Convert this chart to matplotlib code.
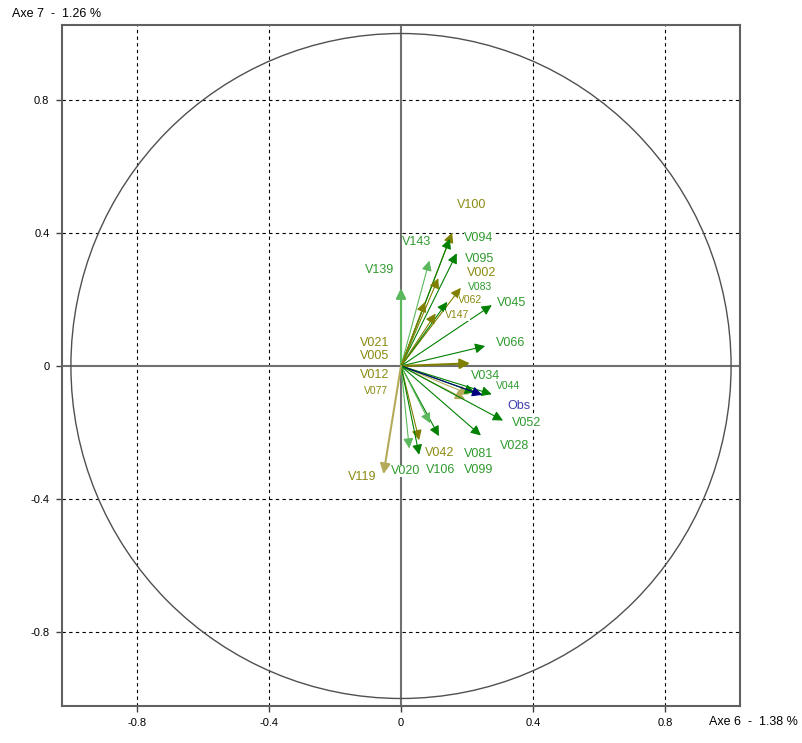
import numpy as np
import matplotlib
matplotlib.use('Agg')
import matplotlib.pyplot as plt
from matplotlib.patches import Circle

plt.rcParams['font.family'] = ['Liberation Sans', 'DejaVu Sans']

# variables (coordinates on axes 6 and 7)
noms = ['V100', 'V094', 'V095', 'V143', 'V139', 'V002', 'V083', 'V062', 'V147',
        'V045', 'V066', 'V021', 'V005', 'V012', 'V077', 'V034', 'V044', 'Obs',
        'V052', 'V028', 'V081', 'V099', 'V042', 'V020', 'V106', 'V119']
axe6 = [0.155, 0.148, 0.169, 0.086, 0.000, 0.181, 0.140, 0.073, 0.105,
        0.275, 0.255, 0.113, 0.209, 0.206, 0.194, 0.224, 0.275, 0.246,
        0.309, 0.242, 0.115, 0.088, 0.055, 0.025, 0.055, -0.053]
axe7 = [0.401, 0.383, 0.339, 0.317, 0.234, 0.235, 0.193, 0.193, 0.158,
        0.183, 0.060, 0.264, 0.008, -0.085, -0.100, -0.080, -0.085, -0.087,
        -0.164, -0.209, -0.211, -0.172, -0.223, -0.248, -0.267, -0.325]
groupes = ['o', 'g', 'g', 'lg', 'lg', 'o', 'g', 'o', 'o',
           'g', 'g', 'o', 'o', 'lo', 'lo', 'g', 'g', 'b',
           'g', 'g', 'g', 'lg', 'o', 'lg', 'g', 'lo']

# position des etiquettes (debut du texte, milieu vertical)
pos_etiq = {
    'V100': (0.170, 0.484), 'V094': (0.191, 0.385), 'V143': (0.003, 0.373),
    'V095': (0.194, 0.322), 'V139': (-0.109, 0.289), 'V002': (0.200, 0.280),
    'V083': (0.203, 0.238), 'V062': (0.173, 0.198), 'V045': (0.291, 0.189),
    'V147': (0.133, 0.153), 'V066': (0.288, 0.069), 'V021': (-0.124, 0.069),
    'V005': (-0.124, 0.030), 'V012': (-0.124, -0.027), 'V077': (-0.112, -0.075),
    'V034': (0.212, -0.030), 'V044': (0.288, -0.060), 'Obs': (0.321, -0.120),
    'V052': (0.336, -0.171), 'V028': (0.300, -0.241), 'V042': (0.073, -0.262),
    'V081': (0.191, -0.265), 'V099': (0.191, -0.313), 'V020': (-0.030, -0.316),
    'V106': (0.076, -0.313), 'V119': (-0.161, -0.334),
}
petits = ['V083', 'V062', 'V147', 'V044', 'V077']

couleur_fleche = {'g': '#008000', 'lg': '#5cb85c', 'o': '#808000',
                  'lo': '#b4aa5a', 'b': '#000080'}
couleur_texte = {'g': '#2e9a2e', 'lg': '#2e9a2e', 'o': '#8a8a10',
                 'lo': '#8a8a10', 'b': '#4040b0'}

fig = plt.figure(figsize=(8.02, 7.43), dpi=100)
ax = fig.add_axes([62/802, 37/743, 678/802, 681/743])
ax.set_xlim(-1.027, 1.027)
ax.set_ylim(-1.0226, 1.0256)

#grille
for v in [-0.8, -0.4, 0.4, 0.8]:
    ax.axvline(v, color='black', lw=0.8, ls=(0, (3, 3)), zorder=1)
    ax.axhline(v, color='black', lw=0.8, ls=(0, (3, 3)), zorder=1)
ax.axvline(0, color='#707070', lw=1.5, zorder=2)
ax.axhline(0, color='#707070', lw=1.5, zorder=2)
ax.add_patch(Circle((0, 0), 1, fill=False, edgecolor='#505050', lw=1, zorder=2))

#fleches
for nom, x, y, g in zip(noms, axe6, axe7, groupes):
    lw = 1.5 if nom in ['V139', 'V005', 'V119'] else 0.8
    ax.annotate('', xy=(x, y), xytext=(0, 0),
                arrowprops=dict(arrowstyle='-|>,head_length=0.6,head_width=0.3',
                                color=couleur_fleche[g], lw=lw, shrinkA=0, shrinkB=0,
                                mutation_scale=10), zorder=3)

#etiquettes
for nom, g in zip(noms, groupes):
    tx, ty = pos_etiq[nom]
    taille = 7.5 if nom in petits else 9
    ax.text(tx, ty, nom, color=couleur_texte[g], fontsize=taille, ha='left', va='center',
            bbox=dict(facecolor='white', edgecolor='none', pad=0.3), zorder=5)

ticks = [-0.8, -0.4, 0, 0.4, 0.8]
ax.set_xticks(ticks)
ax.set_yticks(ticks)
ax.set_xticklabels(['-0.8', '-0.4', '0', '0.4', '0.8'])
ax.set_yticklabels(['-0.8', '-0.4', '0', '0.4', '0.8'])
ax.tick_params(labelsize=8, length=4, width=1, color='#404040', pad=5)
for s in ax.spines.values():
    s.set_color('#606060')
    s.set_linewidth(1.5)

fig.text(12/802, 1 - 14/743, 'Axe 7  -  1.26 %', fontsize=9, ha='left', va='center')
fig.text(798/802, 1 - 722/743, 'Axe 6  -  1.38 %', fontsize=9, ha='right', va='center')

fig.savefig('out.png', dpi=100)
